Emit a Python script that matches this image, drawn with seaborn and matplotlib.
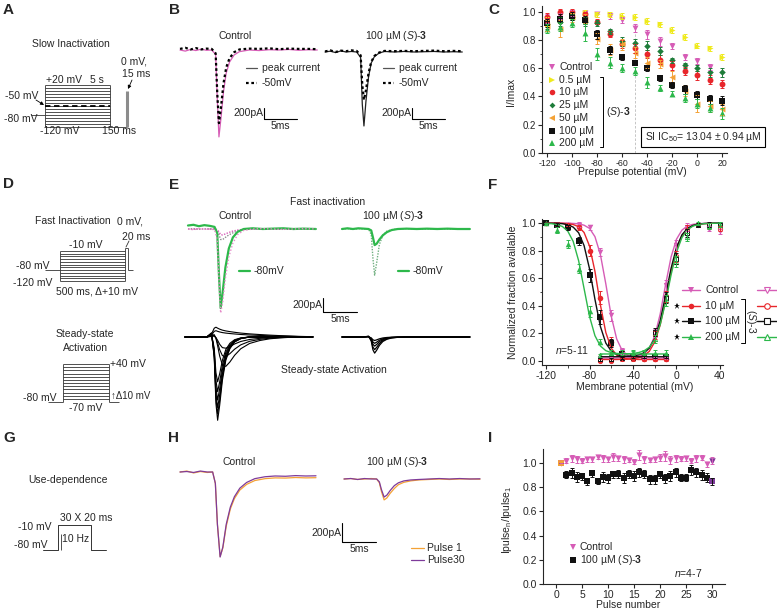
"""
Nav gating figure: protocols, example traces, slow/fast inactivation,
activation and use-dependence panels (A-I).
"""

import matplotlib
matplotlib.use("Agg")
import matplotlib.pyplot as plt
from matplotlib.ticker import MultipleLocator
import seaborn as sns
import pandas as pd

W, H = 777, 612

MAGENTA = "#D65CB6"
YELLOW = "#EFEA1D"
RED = "#E8262B"
DKGREEN = "#1E7D3A"
ORANGE = "#F4A236"
BLACK = "#111111"
GREEN = "#2DB84B"
PURPLE = "#7E3B9A"
GRAY = "#8C8C8C"
LINE = "#333333"

DRUG = "100 µM ($\\mathit{S}$)-$\\mathbf{3}$"
S3 = "($\\mathit{S}$)-$\\mathbf{3}$"

# ---------------- protocols (A, D, G) ----------------
SLOW_STEPS = [-120, -110, -100, -90, -80, -70, -60, -50, -40, -30, -20, -10, 0, 10, 20]
SLOW_HOLD, SLOW_COND, SLOW_RECOV, SLOW_TEST = -80, -50, -120, 0
FAST_STEPS = [-120, -110, -100, -90, -80, -70, -60, -50, -40, -30, -20, -10]
FAST_HOLD, FAST_TEST = -80, 0
ACT_STEPS = [-70, -60, -50, -40, -30, -20, -10, 0, 10, 20, 30, 40]
ACT_HOLD = -80
USE_HOLD, USE_STEP = -80, -10

# ---------------- B traces (ms, pA) ----------------
B_T = [0, 0.8, 1.6, 2.4, 3.2, 4.0, 4.8, 5.4, 5.65, 5.9, 6.2, 6.6, 7.0, 7.5, 8.2, 9.0,
       10.5, 12.0, 13.5, 15.0, 16.5, 18.0, 19.5, 20.8]
B_CTRL_PEAK = [0, -20, 10, -10, 15, -5, 0, -80, -900, -1580, -1250, -750, -420, -220, -90, -30,
               0, -10, 5, 0, 10, -5, 5, 0]
B_CTRL_M50 = [20, 40, 10, 35, 10, 25, 20, -60, -800, -1330, -1050, -600, -320, -150, -40, 10,
              25, 20, 30, 15, 25, 20, 20, 15]
B_DRUG_PEAK = [0, 15, -10, 20, 0, 10, 0, -100, -950, -1345, -900, -450, -200, -80, -20, 10,
               0, 10, 0, 5, 10, 0, 5, 0]
B_DRUG_M50 = [10, 30, 0, 25, 15, 30, 20, -60, -600, -870, -700, -380, -180, -70, -10, 20,
              15, 20, 15, 20, 25, 15, 20, 15]

# ---------------- E traces ----------------
E_T = [0, 0.8, 1.6, 2.4, 3.2, 3.9, 4.3, 4.55, 4.8, 5.1, 5.5, 6.0, 6.6, 7.3, 8.2, 9.5,
       11.0, 12.5, 14.0, 15.5, 17.0, 18.8]
E_CTRL_80 = [50, 60, 40, 55, 45, 30, -60, -650, -1130, -900, -550, -280, -120, -40, 0, 10,
             0, 5, 10, 0, 5, 0]
E_CTRL_PINK = [0, -10, 5, -5, 0, -10, -150, -700, -1200, -1050, -700, -400, -200, -80, -20, 0,
               5, 0, -5, 0, 5, 0]
E_CTRL_GRAY = [0, 5, -5, 0, 5, 0, -20, -80, -150, -150, -120, -85, -55, -30, -10, 0,
               5, 0, -5, 0, 5, 0]
E_CTRL_MAG = [0, -5, 5, 0, -5, 0, -10, -40, -80, -85, -70, -50, -30, -15, -5, 0,
              0, 5, 0, -5, 0, 0]
E_DRUG_80 = [0, 10, 0, 10, 5, 0, -20, -120, -230, -210, -150, -90, -45, -15, 0, 5,
             0, 5, 0, 5, 0, 0]
E_DRUG_DOT = [0, 5, -5, 5, 0, 0, -80, -420, -660, -480, -220, -90, -30, -10, 0, 5,
              0, 0, 5, 0, 0, 0]
SS_FAST = [0, 0, 0, 0, 0, 0.05, -0.25, -0.8, -1.0, -0.82, -0.52, -0.28, -0.14, -0.06, -0.02, 0,
           0, 0, 0, 0, 0, 0]
SS_SLOW = [0, 0, 0, 0, 0, 0.05, 0.08, -0.05, -0.3, -0.65, -0.95, -1.0, -0.85, -0.62, -0.4, -0.22,
           -0.12, -0.06, -0.03, -0.01, 0, 0]
SS_OUT = [0, 0, 0, 0, 0, 0.3, 0.9, 1.0, 0.9, 0.8, 0.7, 0.62, 0.55, 0.48, 0.4, 0.32,
          0.25, 0.19, 0.14, 0.1, 0.06, 0.03]
SS_CTRL_FAST_AMP = [1190, 1100, 1010, 900, 780, 640]
SS_CTRL_SLOW_AMP = [420, 280, 160]
SS_CTRL_OUT_AMP = [140, 90]
SS_DRUG_AMP = [230, 180, 130, 90, 50]

# ---------------- H traces ----------------
H_T = [0, 1, 2, 3, 4, 4.8, 5.2, 5.5, 5.9, 6.3, 6.8, 7.4, 8.0, 8.8, 9.8, 11.0,
       12.5, 14.0, 15.5, 17.0, 18.5, 20.0]
H_CTRL_P1 = [0, 10, -10, 5, -5, 0, -120, -550, -890, -800, -570, -390, -280, -190, -130, -90,
             -70, -62, -64, -58, -62, -60]
H_CTRL_P30 = [0, 5, -5, 10, 0, 0, -120, -550, -895, -790, -550, -370, -260, -170, -110, -70,
              -50, -42, -45, -38, -42, -40]
H_DRUG_P1 = [0, 5, -5, 0, 5, 0, -40, -130, -220, -200, -150, -100, -60, -35, -20, -10,
             -5, 0, -5, 0, 0, -2]
H_DRUG_P30 = [0, 5, -5, 5, 0, 0, -30, -110, -190, -170, -120, -70, -40, -20, -10, -5,
              0, 5, 0, 5, 0, 2]

# ---------------- C: slow inactivation ----------------
C_V = [-120, -110, -100, -90, -80, -70, -60, -50, -40, -30, -20, -10, 0, 10, 20]
C_REF_V = -50
C_CTRL = [0.95, 0.97, 0.99, 0.99, 0.98, 0.97, 0.94, 0.885, 0.84, 0.79, 0.755, 0.68, 0.65, 0.61, float("nan")]
C_05 = [0.93, 0.95, 0.97, 0.99, 0.98, 0.98, 0.97, 0.96, 0.935, 0.91, 0.87, 0.82, 0.76, 0.74, 0.68]
C_10 = [0.96, 1.0, 1.0, 0.98, 0.93, 0.84, 0.77, 0.74, 0.70, 0.66, 0.62, 0.58, 0.55, 0.52, 0.49]
C_25 = [0.91, 0.93, 0.96, 0.93, 0.92, 0.86, 0.79, 0.78, 0.76, 0.72, 0.655, 0.62, 0.60, 0.57, 0.57]
C_50 = [0.90, 0.88, 0.96, 0.95, 0.81, 0.73, 0.77, 0.71, 0.64, 0.63, 0.54, 0.44, 0.35, 0.33, 0.31]
C_100 = [0.92, 0.95, 0.97, 0.94, 0.84, 0.73, 0.68, 0.64, 0.60, 0.53, 0.48, 0.45, 0.41, 0.38, 0.37]
C_200 = [0.88, 0.89, 0.92, 0.85, 0.70, 0.64, 0.60, 0.58, 0.50, 0.46, 0.42, 0.39, 0.35, 0.32, 0.28]
C_CTRL_ERR = [0.03, 0.02, 0.02, 0.02, 0.02, 0.02, 0.02, 0.03, 0.03, 0.03, 0.02, 0.02, 0.02, 0.02, 0.0]
C_05_ERR = [0.03, 0.03, 0.02, 0.02, 0.02, 0.02, 0.02, 0.02, 0.02, 0.02, 0.02, 0.02, 0.02, 0.02, 0.02]
C_10_ERR = [0.03, 0.02, 0.02, 0.02, 0.02, 0.02, 0.03, 0.03, 0.03, 0.03, 0.03, 0.03, 0.03, 0.03, 0.03]
C_25_ERR = [0.03, 0.03, 0.02, 0.03, 0.02, 0.02, 0.03, 0.03, 0.03, 0.03, 0.02, 0.02, 0.02, 0.03, 0.03]
C_50_ERR = [0.04, 0.06, 0.03, 0.03, 0.04, 0.04, 0.04, 0.04, 0.04, 0.03, 0.04, 0.04, 0.06, 0.04, 0.04]
C_100_ERR = [0.03, 0.03, 0.03, 0.03, 0.03, 0.03, 0.02, 0.02, 0.02, 0.02, 0.02, 0.03, 0.03, 0.03, 0.03]
C_200_ERR = [0.03, 0.03, 0.03, 0.06, 0.04, 0.04, 0.03, 0.03, 0.04, 0.02, 0.02, 0.03, 0.03, 0.03, 0.04]
C_LABELS = ["Control", "0.5 µM", "10 µM", "25 µM", "50 µM", "100 µM", "200 µM"]

# ---------------- F: fast inactivation / activation ----------------
F_INACT_V = [-120, -110, -100, -90, -80, -70, -60, -50, -40, -30, -20, -10]
F_IN_CTRL = [1.0, 0.99, 0.99, 0.99, 0.97, 0.79, 0.33, 0.07, 0.03, 0.02, 0.02, 0.02]
F_IN_10 = [1.0, 0.99, 0.99, 0.97, 0.80, 0.46, 0.14, 0.05, 0.02, 0.01, 0.01, 0.01]
F_IN_100 = [1.0, 0.99, 0.97, 0.87, 0.62, 0.32, 0.13, 0.05, 0.03, 0.03, 0.03, 0.03]
F_IN_200 = [1.0, 0.95, 0.85, 0.67, 0.36, 0.14, 0.06, 0.06, 0.06, 0.06, 0.06, 0.06]
F_IN_CTRL_ERR = [0.0, 0.01, 0.01, 0.02, 0.02, 0.03, 0.04, 0.02, 0.01, 0.01, 0.01, 0.01]
F_IN_10_ERR = [0.0, 0.01, 0.01, 0.02, 0.04, 0.05, 0.03, 0.02, 0.01, 0.01, 0.01, 0.01]
F_IN_100_ERR = [0.0, 0.01, 0.02, 0.03, 0.05, 0.05, 0.03, 0.02, 0.01, 0.01, 0.01, 0.01]
F_IN_200_ERR = [0.0, 0.02, 0.03, 0.03, 0.04, 0.02, 0.02, 0.02, 0.02, 0.02, 0.02, 0.02]
F_ACT_V = [-70, -60, -50, -40, -30, -20, -10, 0, 10, 20, 30, 40]
F_AC_CTRL = [0.02, 0.02, 0.02, 0.02, 0.03, 0.20, 0.55, 0.84, 0.97, 0.99, 0.96, 0.94]
F_AC_10 = [0.0, 0.0, 0.01, 0.01, 0.02, 0.19, 0.47, 0.76, 0.96, 0.99, 0.98, 0.96]
F_AC_100 = [0.01, 0.01, 0.02, 0.02, 0.03, 0.21, 0.46, 0.74, 0.93, 0.99, 0.99, 0.99]
F_AC_200 = [0.04, 0.05, 0.06, 0.06, 0.06, 0.16, 0.44, 0.72, 0.90, 1.0, 0.98, 0.99]
F_AC_ERR = [0.01, 0.01, 0.01, 0.01, 0.01, 0.03, 0.04, 0.04, 0.03, 0.01, 0.02, 0.02]
# Boltzmann fit curves, 5 mV grid
F_FIT_IN_V = [-120, -115, -110, -105, -100, -95, -90, -85, -80, -75, -70, -65, -60, -55,
              -50, -45, -40, -35, -30, -25, -20, -15, -10]
F_FIT_IN_CTRL = [1.0, 1.0, 1.0, 1.0, 0.999, 0.998, 0.995, 0.985, 0.962, 0.902, 0.773, 0.559,
                 0.324, 0.159, 0.076, 0.041, 0.028, 0.023, 0.021, 0.02, 0.02, 0.02, 0.02]
F_FIT_IN_10 = [1.0, 1.0, 1.0, 0.999, 0.996, 0.99, 0.974, 0.932, 0.834, 0.65, 0.407, 0.206,
               0.092, 0.042, 0.022, 0.015, 0.012, 0.01, 0.01, 0.01, 0.01, 0.01, 0.01]
F_FIT_IN_100 = [1.0, 0.999, 0.998, 0.996, 0.988, 0.971, 0.93, 0.837, 0.669, 0.447, 0.25, 0.129,
                0.071, 0.046, 0.036, 0.033, 0.031, 0.03, 0.03, 0.03, 0.03, 0.03, 0.03]
F_FIT_IN_200 = [0.998, 0.996, 0.99, 0.976, 0.942, 0.867, 0.727, 0.525, 0.323, 0.183, 0.108, 0.074,
                0.06, 0.054, 0.052, 0.051, 0.05, 0.05, 0.05, 0.05, 0.05, 0.05, 0.05]
F_FIT_AC_V = [-70, -65, -60, -55, -50, -45, -40, -35, -30, -25, -20, -15, -10, -5,
              0, 5, 10, 15, 20, 25, 30, 35, 40]
F_FIT_AC_CTRL = [0.02, 0.02, 0.02, 0.02, 0.021, 0.022, 0.025, 0.032, 0.05, 0.092, 0.18, 0.339,
                 0.554, 0.753, 0.883, 0.949, 0.979, 0.991, 0.996, 0.998, 0.999, 1.0, 1.0]
F_FIT_AC_10 = [0.01, 0.01, 0.01, 0.01, 0.011, 0.012, 0.015, 0.022, 0.037, 0.069, 0.137, 0.26,
               0.443, 0.646, 0.807, 0.906, 0.957, 0.981, 0.992, 0.996, 0.998, 0.999, 1.0]
F_FIT_AC_100 = [0.03, 0.03, 0.03, 0.03, 0.031, 0.032, 0.035, 0.043, 0.058, 0.093, 0.164, 0.291,
                0.475, 0.671, 0.823, 0.915, 0.961, 0.983, 0.993, 0.997, 0.999, 1.0, 1.0]
F_FIT_AC_200 = [0.05, 0.05, 0.05, 0.05, 0.05, 0.051, 0.054, 0.06, 0.072, 0.099, 0.155, 0.262,
                0.427, 0.623, 0.788, 0.895, 0.951, 0.978, 0.991, 0.996, 0.998, 0.999, 1.0]
F_LABELS = ["Control", "10 µM", "100 µM", "200 µM"]

# ---------------- I: use-dependence ----------------
I_PULSE = [1, 2, 3, 4, 5, 6, 7, 8, 9, 10, 11, 12, 13, 14, 15, 16, 17, 18, 19, 20,
           21, 22, 23, 24, 25, 26, 27, 28, 29, 30]
I_CTRL = [1.0, 1.02, 1.04, 1.03, 1.02, 1.03, 1.03, 1.05, 1.04, 1.03, 1.05, 1.04, 1.03, 1.025, 1.01,
          1.065, 1.03, 1.025, 1.03, 1.045, 1.06, 1.025, 1.04, 1.035, 1.04, 1.02, 1.04, 1.045, 0.99, 1.02]
I_DRUG = [1.0, 0.905, 0.92, 0.885, 0.89, 0.85, 0.915, 0.85, 0.887, 0.873, 0.906, 0.909, 0.879, 0.909, 0.895,
          0.923, 0.909, 0.865, 0.865, 0.906, 0.873, 0.893, 0.923, 0.88, 0.879, 0.942, 0.923, 0.90, 0.88, 0.85]
I_CTRL_ERR = [0, 0.02, 0.03, 0.03, 0.02, 0.02, 0.02, 0.02, 0.03, 0.02, 0.03, 0.02, 0.03, 0.02, 0.02,
              0.04, 0.03, 0.02, 0.02, 0.03, 0.04, 0.03, 0.03, 0.02, 0.02, 0.02, 0.03, 0.02, 0.02, 0.03]
I_DRUG_ERR = [0, 0.03, 0.04, 0.04, 0.03, 0.03, 0.03, 0.02, 0.04, 0.04, 0.03, 0.03, 0.04, 0.03, 0.04,
              0.04, 0.03, 0.04, 0.04, 0.03, 0.04, 0.04, 0.04, 0.03, 0.03, 0.04, 0.04, 0.04, 0.04, 0.03]

sns.set_style("ticks")
plt.rcParams["font.family"] = ["Liberation Sans", "DejaVu Sans"]
plt.rcParams["axes.unicode_minus"] = False
plt.rcParams["mathtext.fontset"] = "custom"
plt.rcParams["mathtext.rm"] = "Liberation Sans"
plt.rcParams["mathtext.it"] = "Liberation Sans:italic"
plt.rcParams["mathtext.bf"] = "Liberation Sans:bold"

fig = plt.figure(figsize=(W / 100, H / 100), dpi=100)


def px_axes(x, y, w, h):
    return fig.add_axes([x / W, 1 - (y + h) / H, w / W, h / H])


ov = px_axes(0, 0, W, H)
ov.set_xlim(0, W)
ov.set_ylim(H, 0)
ov.axis("off")
ov.set_zorder(10)


def T(x, y, s, size=7.5, ha="center", va="center", **kw):
    ov.text(x, y, s, fontsize=size, ha=ha, va=va, **kw)


def proto_axes(x, y, w, h, v_ref, y_ref, px_mv):
    ax = px_axes(x, y, w, h)
    ax.set_xlim(x, x + w)
    ax.set_ylim(v_ref - (y + h - y_ref) / px_mv, v_ref + (y_ref - y) / px_mv)
    ax.axis("off")
    return ax


def trace_axes(t0, base, sx, sy, span=180, up=25, down=110):
    ax = px_axes(t0 - 2, base - up, span + 4, up + down)
    ax.set_xlim(-2 / sx, (span + 2) / sx)
    ax.set_ylim(-down / sy, up / sy)
    ax.axis("off")
    return ax


def trace(ax, t, i, color, lw=0.9, ls="-"):
    sns.lineplot(x=t, y=i, color=color, lw=lw, linestyle=ls, estimator=None, ax=ax)


def scale_bar(x, y, sx, sy):
    v, h = 200 * sy, 5 * sx
    ov.plot([x, x, x + h], [y, y + v, y + v], color="k", lw=0.8)
    T(x - 1, y + v / 2, "200pA", ha="right")
    T(x + h / 2, y + v + 2, "5ms", va="top")


def style(ax, size):
    sns.despine(ax=ax)
    for s in ("left", "bottom"):
        ax.spines[s].set_linewidth(0.8)
    ax.tick_params(length=3, width=0.8, labelsize=size, pad=1.5)
    ax.tick_params(which="minor", length=1.8, width=0.6)
    ax.set_xlabel("")
    ax.set_ylabel("")


# panel letters
for letter, lx, ly in zip("ABCDEFGHI", [3, 169, 488, 3, 169, 488, 3, 168, 488],
                          [3, 3, 3, 177, 178, 178, 431, 431, 431]):
    T(lx, ly, letter, size=11, weight="bold", ha="left", va="top")

# ---------------- A ----------------
axA = proto_axes(0, 30, 165, 110, 20, 85, 0.3)
axA.hlines(SLOW_STEPS, 45, 110, color=LINE, lw=0.6)
axA.vlines([45, 110], min(SLOW_STEPS), max(SLOW_STEPS), color=LINE, lw=0.6)
axA.hlines(SLOW_HOLD, 31, 45, color=LINE, lw=0.6)
axA.hlines(SLOW_COND, 45, 110, color="k", lw=1.3, linestyles=[(0, (3, 2))])
axA.hlines(SLOW_RECOV, 110, 127, color=LINE, lw=0.6)
axA.vlines(127, SLOW_RECOV, SLOW_TEST, color=GRAY, lw=2.2)
T(71, 44, "Slow Inactivation")
T(134, 62, "0 mV,")
T(136, 74, "15 ms")
T(46, 80, "+20 mV", ha="left")
T(97, 80, "5 s")
T(22, 96, "-50 mV")
T(21, 119, "-80 mV")
T(60, 131, "-120 mV")
T(119, 131, "150 ms")
arrow = dict(arrowstyle="-|>", color="k", lw=0.6, mutation_scale=5, shrinkA=0, shrinkB=0)
ov.annotate("", xy=(44, 105), xytext=(36, 100), arrowprops=arrow)
ov.annotate("", xy=(128, 89), xytext=(132, 80), arrowprops=arrow)

# ---------------- D ----------------
axD = proto_axes(0, 200, 170, 100, -10, 251, 30 / 110)
axD.hlines(FAST_STEPS, 60, 125, color=LINE, lw=0.6)
axD.vlines(60, min(FAST_STEPS), max(FAST_STEPS), color=LINE, lw=0.6)
axD.vlines(125, min(FAST_STEPS), FAST_TEST, color=LINE, lw=0.6)
axD.hlines(FAST_HOLD, 45, 60, color=LINE, lw=0.6)
axD.hlines(FAST_TEST, 125, 128, color=LINE, lw=0.6)
axD.vlines(128, FAST_HOLD, FAST_TEST, color=LINE, lw=0.6)
axD.hlines(FAST_HOLD, 128, 133, color=LINE, lw=0.6)
ov.plot([126, 129], [247, 241], color=LINE, lw=0.6)
T(73, 221, "Fast Inactivation")
T(130, 222, "0 mV,")
T(136, 237, "20 ms")
T(86, 245, "-10 mV")
T(33, 266, "-80 mV")
T(33, 283, "-120 mV")
T(97, 291, "500 ms, Δ+10 mV")

axS = proto_axes(0, 350, 170, 70, 40, 364, 35 / 110)
axS.hlines(ACT_STEPS, 63, 109, color=LINE, lw=0.6)
axS.vlines([63, 109], ACT_HOLD, max(ACT_STEPS), color=LINE, lw=0.6)
axS.hlines(ACT_HOLD, 48, 63, color=LINE, lw=0.6)
axS.hlines(ACT_HOLD, 109, 119, color=LINE, lw=0.6)
T(85, 334, "Steady-state")
T(85, 348, "Activation")
T(110, 364, "+40 mV", ha="left")
T(40, 398, "-80 mV")
T(86, 408, "-70 mV")
T(111, 396, "↑Δ10 mV", ha="left", size=7)

# ---------------- G ----------------
axG = proto_axes(0, 500, 170, 60, -10, 525, 25 / 70)
axG.plot([43, 58, 58, 91, 91, 106],
         [USE_HOLD, USE_HOLD, USE_STEP, USE_STEP, USE_HOLD, USE_HOLD], color=LINE, lw=0.7)
axG.vlines(61, USE_HOLD, -35, color=LINE, lw=0.6)
T(68, 480, "Use-dependence")
T(86, 518, "30 X 20 ms")
T(35, 527, "-10 mV")
T(31, 545, "-80 mV")
T(76, 539, "10 Hz")

# ---------------- B ----------------
sxB, syB = 6.6, 0.055
axB1 = trace_axes(180, 50, sxB, syB, span=145)
trace(axB1, B_T, B_CTRL_PEAK, MAGENTA, lw=0.9)
trace(axB1, B_T, B_CTRL_M50, "k", lw=1.6, ls=(0, (1.2, 1.2)))
axB2 = trace_axes(325, 52, sxB, syB, span=145)
trace(axB2, B_T, B_DRUG_PEAK, "#222222", lw=0.9)
trace(axB2, B_T, B_DRUG_M50, "k", lw=1.6, ls=(0, (1.2, 1.2)))
T(235, 36, "Control")
T(396, 36, DRUG)
for lx, tx in ((246, 262), (383, 399)):
    ov.plot([lx, lx + 11], [68, 68], color="#555555", lw=0.9)
    T(tx, 68, "peak current", ha="left")
    ov.plot([lx, lx + 11], [83, 83], color="k", lw=1.6, ls=(0, (1.2, 1.2)))
    T(tx, 83, "-50mV", ha="left")
scale_bar(264, 108, sxB, syB)
scale_bar(412, 108, sxB, syB)

# ---------------- E ----------------
sxE, syE = 6.8, 0.07
axE1 = trace_axes(188, 229, sxE, syE, span=175)
trace(axE1, E_T, E_CTRL_GRAY, GRAY, lw=1.0, ls=(0, (1, 1)))
trace(axE1, E_T, E_CTRL_MAG, MAGENTA, lw=1.0, ls=(0, (1, 1)))
trace(axE1, E_T, E_CTRL_80, GREEN, lw=1.6)
trace(axE1, E_T, E_CTRL_PINK, "#E58AC8", lw=1.0, ls=(0, (1, 1.5)))
axE2 = trace_axes(342, 229, sxE, syE, span=135)
trace(axE2, E_T, E_DRUG_DOT, "#6FAF7F", lw=1.0, ls=(0, (1, 1)))
trace(axE2, E_T, E_DRUG_80, GREEN, lw=1.6)
T(328, 202, "Fast inactivation")
T(235, 216, "Control")
T(393, 216, DRUG)
for lx in (239, 398):
    ov.plot([lx, lx + 11], [271, 271], color=GREEN, lw=1.6)
    T(lx + 15, 271, "-80mV", ha="left")
scale_bar(323, 298, sxE, syE)

axE3 = trace_axes(185, 337, sxE, syE, span=135)
for amp in SS_CTRL_OUT_AMP:
    trace(axE3, E_T, [amp * v for v in SS_OUT], "k", lw=0.8)
for amp in SS_CTRL_SLOW_AMP:
    trace(axE3, E_T, [amp * v for v in SS_SLOW], "k", lw=0.8)
for amp in SS_CTRL_FAST_AMP:
    trace(axE3, E_T, [amp * v for v in SS_FAST], "k", lw=0.8)
axE4 = trace_axes(342, 337, sxE, syE, span=135)
for amp in SS_DRUG_AMP:
    trace(axE4, E_T, [amp * v for v in SS_FAST], "k", lw=0.9)
T(334, 370, "Steady-state Activation")

# ---------------- H ----------------
sxH, syH = 6.8, 0.095
axH1 = trace_axes(180, 472, sxH, syH, span=140, down=100)
trace(axH1, H_T, H_CTRL_P1, ORANGE, lw=0.9)
trace(axH1, H_T, H_CTRL_P30, PURPLE, lw=0.9)
axH2 = trace_axes(344, 479, sxH, syH, span=140, down=60)
trace(axH2, H_T, H_DRUG_P1, ORANGE, lw=0.9)
trace(axH2, H_T, H_DRUG_P30, PURPLE, lw=0.9)
T(239, 462, "Control")
T(397, 462, DRUG)
scale_bar(342, 523, sxH, syH)
ov.plot([411, 424], [548, 548], color=ORANGE, lw=0.9)
T(427, 548, "Pulse 1", ha="left")
ov.plot([411, 424], [560, 560], color=PURPLE, lw=0.9)
T(427, 560, "Pulse30", ha="left")

# ---------------- C ----------------
axC = px_axes(542, 6, 185, 147)
C_SERIES = [C_CTRL, C_05, C_10, C_25, C_50, C_100, C_200]
C_ERRS = [C_CTRL_ERR, C_05_ERR, C_10_ERR, C_25_ERR, C_50_ERR, C_100_ERR, C_200_ERR]
C_COLORS = [MAGENTA, YELLOW, RED, DKGREEN, ORANGE, BLACK, GREEN]
C_MARKERS = ["v", ">", "o", "D", "<", "s", "^"]
axC.vlines(C_REF_V, 0, C_CTRL[C_V.index(C_REF_V)], colors="#BBBBBB", lw=0.6,
           linestyles=[(0, (3, 2))])
for vals, errs, col, mk in zip(C_SERIES, C_ERRS, C_COLORS, C_MARKERS):
    df = pd.DataFrame({"V": C_V, "I": vals, "err": errs}).dropna()
    axC.errorbar(df["V"], df["I"], yerr=df["err"], fmt="none", ecolor=col,
                 elinewidth=0.7, capsize=1.5, capthick=0.7)
    sns.scatterplot(data=df, x="V", y="I", marker=mk, color=col, s=18 if mk != "D" else 11,
                    linewidth=0, ax=axC, legend=False)
axC.set_xlim(-124, 24)
axC.set_ylim(0, 1.04)
axC.set_xticks([-120, -100, -80, -60, -40, -20, 0, 20])
axC.set_yticks([0.0, 0.2, 0.4, 0.6, 0.8, 1.0])
axC.yaxis.set_minor_locator(MultipleLocator(0.1))
style(axC, 7)
axC.tick_params(axis="x", labelsize=6.3)
T(511, 92, "I/Imax", rotation=90)
T(632, 172, "Prepulse potential (mV)")
for k, (lab, col, mk) in enumerate(zip(C_LABELS, C_COLORS, C_MARKERS)):
    y = 67 + 12.7 * k
    ov.plot([552], [y], marker=mk, color=col, ms=4 if mk != "D" else 3, mew=0, ls="none")
    T(559, y, lab, ha="left")
ov.plot([600, 603, 603, 600], [77, 77, 147, 147], color="k", lw=0.7)
T(606, 112, S3, ha="left")
T(703, 137, "SI IC$_{50}$= 13.04 ± 0.94 µM",
  bbox=dict(boxstyle="square,pad=0.3", fc="white", ec="black", lw=0.8))

# ---------------- F ----------------
axF = px_axes(542, 219, 181, 146)
F_COLORS = [MAGENTA, RED, BLACK, GREEN]
F_FILLED = ["v", "o", "s", "^"]
F_IN = [F_IN_CTRL, F_IN_10, F_IN_100, F_IN_200]
F_IN_ERR = [F_IN_CTRL_ERR, F_IN_10_ERR, F_IN_100_ERR, F_IN_200_ERR]
F_AC = [F_AC_CTRL, F_AC_10, F_AC_100, F_AC_200]
F_FIT_IN = [F_FIT_IN_CTRL, F_FIT_IN_10, F_FIT_IN_100, F_FIT_IN_200]
F_FIT_AC = [F_FIT_AC_CTRL, F_FIT_AC_10, F_FIT_AC_100, F_FIT_AC_200]
for fin, fac, col in zip(F_FIT_IN, F_FIT_AC, F_COLORS):
    sns.lineplot(x=F_FIT_IN_V, y=fin, color=col, lw=1.0, estimator=None, ax=axF)
    sns.lineplot(x=F_FIT_AC_V, y=fac, color=col, lw=1.0, estimator=None, ax=axF)
for ac, col, mk in zip(F_AC, F_COLORS, F_FILLED):
    axF.errorbar(F_ACT_V, ac, yerr=F_AC_ERR, fmt="none", ecolor=col,
                 elinewidth=0.7, capsize=1.5, capthick=0.7)
    sns.scatterplot(x=F_ACT_V, y=ac, marker=mk, color=col, edgecolor=col, s=9,
                    linewidth=0.7, ax=axF, legend=False)
    axF.collections[-1].set_facecolor("white")
for vals, errs, col, mk in zip(F_IN, F_IN_ERR, F_COLORS, F_FILLED):
    axF.errorbar(F_INACT_V, vals, yerr=errs, fmt="none", ecolor=col,
                 elinewidth=0.7, capsize=1.5, capthick=0.7)
    sns.scatterplot(x=F_INACT_V, y=vals, marker=mk, color=col, s=16, linewidth=0,
                    ax=axF, legend=False)
axF.set_xlim(-123.7, 42.8)
axF.set_ylim(-0.03, 1.03)
axF.set_xticks([-120, -80, -40, 0, 40])
axF.xaxis.set_minor_locator(MultipleLocator(20))
axF.set_yticks([0.0, 0.2, 0.4, 0.6, 0.8, 1.0])
axF.yaxis.set_minor_locator(MultipleLocator(0.1))
style(axF, 7.5)
T(513, 292, "Normalized fraction available", rotation=90)
T(635, 387, "Membrane potential (mV)")
T(572, 350, "$\\mathit{n}$=5-11")
for k, (lab, col, mk) in enumerate(zip(F_LABELS, F_COLORS, F_FILLED)):
    y = 290 + 15.7 * k
    ov.plot([682, 700], [y, y], color=col, lw=1.0)
    ov.plot([691], [y], marker=mk, color=col, ms=4, mew=0)
    T(705, y, lab, ha="left")
    ov.plot([757, 777], [y, y], color=col, lw=1.0)
    ov.plot([767], [y], marker=mk, color=col, ms=4, mfc="white", mew=0.8)
    if k:
        ov.plot([677], [y], marker="*", color="k", ms=5, mew=0)
ov.plot([741, 745, 745, 741], [299, 299, 343, 343], color="k", lw=0.7)
T(751, 321, "($\\mathit{S}$)-3", rotation=-90)

# ---------------- I ----------------
axI = px_axes(543, 449, 182, 135)
for vals, errs, col, mk in ((I_DRUG, I_DRUG_ERR, BLACK, "s"), (I_CTRL, I_CTRL_ERR, MAGENTA, "v")):
    axI.errorbar(I_PULSE, vals, yerr=errs, fmt="none", ecolor=col,
                 elinewidth=0.7, capsize=1.5, capthick=0.7)
    sns.scatterplot(x=I_PULSE, y=vals, marker=mk, color=col, s=20, linewidth=0,
                    ax=axI, legend=False)
    sns.scatterplot(x=I_PULSE[:1], y=vals[:1], marker=mk, color=ORANGE, s=20, linewidth=0,
                    ax=axI, legend=False)
    sns.scatterplot(x=I_PULSE[-1:], y=vals[-1:], marker=mk, color=PURPLE, s=20, linewidth=0,
                    ax=axI, legend=False)
axI.set_xlim(-2.5, 32.5)
axI.set_ylim(0, 1.116)
axI.set_xticks([0, 5, 10, 15, 20, 25, 30])
axI.set_yticks([0.0, 0.2, 0.4, 0.6, 0.8, 1.0])
style(axI, 7.5)
T(507, 520, "Ipulse$_{\\mathrm{n}}$/Ipulse$_{\\mathrm{1}}$", rotation=90)
T(628, 605, "Pulse number")
ov.plot([573], [547], marker="v", color=MAGENTA, ms=4.5, mew=0)
T(580, 547, "Control", ha="left")
ov.plot([573], [560], marker="s", color=BLACK, ms=4, mew=0)
T(580, 560, DRUG, ha="left")
T(688, 573, "$\\mathit{n}$=4-7")

fig.savefig("out.png", dpi=100)
